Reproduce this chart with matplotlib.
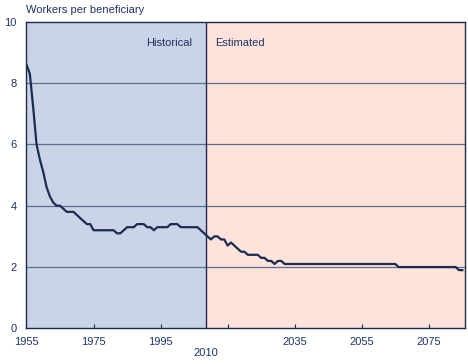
import numpy as np
import matplotlib
matplotlib.use("Agg")
import matplotlib.pyplot as plt

plt.rcParams["font.family"] = ["Liberation Sans", "DejaVu Sans"]

# data: workers per beneficiary
years = list(range(1955, 2086))
workers = [
    8.6, 8.3, 7.2, 6.0, 5.5, 5.1, 4.6, 4.3, 4.1, 4.0,      # 1955-1964
    4.0, 3.9, 3.8, 3.8, 3.8, 3.7, 3.6, 3.5, 3.4, 3.4,      # 1965-1974
    3.2, 3.2, 3.2, 3.2, 3.2, 3.2, 3.2, 3.1, 3.1, 3.2,      # 1975-1984
    3.3, 3.3, 3.3, 3.4, 3.4, 3.4, 3.3, 3.3, 3.2, 3.3,      # 1985-1994
    3.3, 3.3, 3.3, 3.4, 3.4, 3.4, 3.3, 3.3, 3.3, 3.3,      # 1995-2004
    3.3, 3.3, 3.2, 3.1, 3.0, 2.9, 3.0, 3.0, 2.9, 2.9,      # 2005-2014
    2.7, 2.8, 2.7, 2.6, 2.5, 2.5, 2.4, 2.4, 2.4, 2.4,      # 2015-2024
    2.3, 2.3, 2.2, 2.2, 2.1, 2.2, 2.2, 2.1, 2.1, 2.1,      # 2025-2034
    2.1, 2.1, 2.1, 2.1, 2.1, 2.1, 2.1, 2.1, 2.1, 2.1,      # 2035-2044
    2.1, 2.1, 2.1, 2.1, 2.1, 2.1, 2.1, 2.1, 2.1, 2.1,      # 2045-2054
    2.1, 2.1, 2.1, 2.1, 2.1, 2.1, 2.1, 2.1, 2.1, 2.1,      # 2055-2064
    2.1, 2.0, 2.0, 2.0, 2.0, 2.0, 2.0, 2.0, 2.0, 2.0,      # 2065-2074
    2.0, 2.0, 2.0, 2.0, 2.0, 2.0, 2.0, 2.0, 2.0, 1.9,      # 2075-2084
    1.9,                                                   # 2085
]
tick_years = [1955, 1975, 1995, 2015, 2035, 2055, 2075]
tick_labels = ["1955", "1975", "1995", "", "2035", "2055", "2075"]
split_year = 2008.4
split_label = "2010"
region_labels = ["Historical", "Estimated"]

# colours
navy = "#1b2b52"
text_col = "#1f3366"
grid_col = "#5b6d93"
hist_bg = "#cbd3e6"
est_bg = "#fde3da"

fig = plt.figure(figsize=(4.68, 3.64), dpi=100)
ax = fig.add_axes([0.0566, 0.0978, 0.937, 0.8426])

x_min, x_max = 1955, 2085.8
ax.axvspan(x_min, split_year, color=hist_bg, zorder=0, lw=0)
ax.axvspan(split_year, x_max, color=est_bg, zorder=0, lw=0)
ax.axvline(split_year, color=navy, lw=1.0, zorder=2)

for yv in [2, 4, 6, 8]:
    ax.axhline(yv, color=grid_col, lw=0.9, zorder=1)

ax.plot(years, workers, color=navy, lw=1.6, zorder=3, solid_joinstyle="round")

ax.set_xlim(x_min, x_max)
ax.set_ylim(0, 10)
ax.set_yticks([0, 2, 4, 6, 8, 10])
ax.set_xticks(tick_years)
ax.set_xticklabels(tick_labels)
ax.tick_params(axis="x", direction="in", length=3, color=navy, pad=6,
               labelsize=8, labelcolor=text_col)
ax.tick_params(axis="y", length=0, pad=7, labelsize=8, labelcolor=text_col)
for s in ax.spines.values():
    s.set_color(navy)
    s.set_linewidth(1.0)

ax.text(split_year, -0.65, split_label, ha="center", va="top",
        fontsize=8, color=text_col, clip_on=False)
ax.text(split_year - 4, 9.3, region_labels[0], ha="right", va="center",
        fontsize=8, color=text_col)
ax.text(split_year + 3, 9.3, region_labels[1], ha="left", va="center",
        fontsize=8, color=text_col)
fig.text(0.0566, 0.972, "Workers per beneficiary", ha="left", va="center",
         fontsize=8, color=text_col)

fig.savefig("out.png", dpi=100)
